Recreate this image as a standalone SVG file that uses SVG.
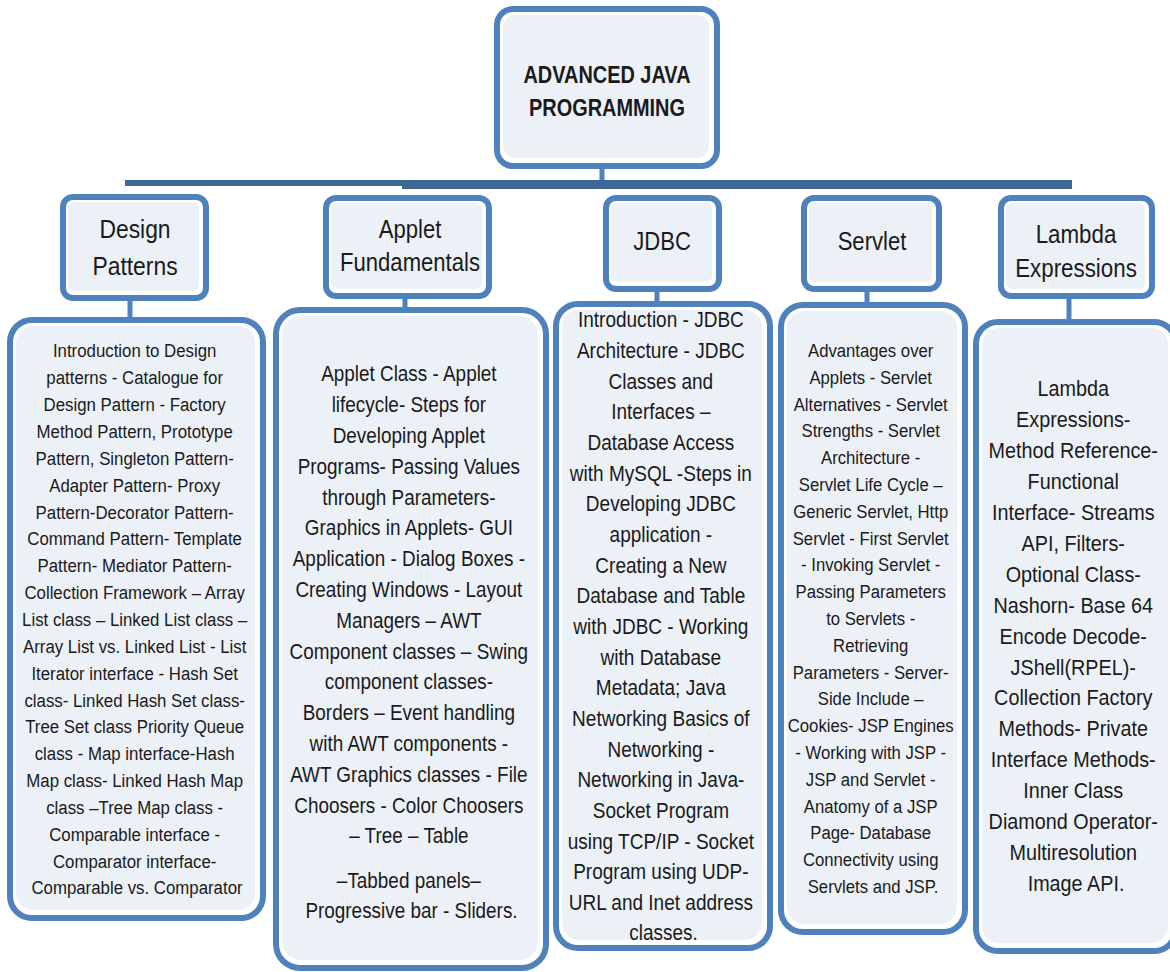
<svg xmlns="http://www.w3.org/2000/svg" width="1170" height="972" viewBox="0 0 1170 972">
  <style>
    .frame { fill: #ffffff; stroke: #4f81bd; stroke-width: 6; }
    .inner { fill: #ecf1f8; stroke: none; }
    .link { stroke: #4f81bd; stroke-width: 5; fill: none; }
    .bar { stroke: #3f6899; stroke-width: 6; fill: none; }
    text { font-family: "Liberation Sans", Arial, sans-serif; fill: #1a1a1a; text-anchor: middle; }
    .title { font-size: 24px; font-weight: bold; }
    .head { font-size: 26px; }
    .b19 { font-size: 19px; }
    .b22 { font-size: 22px; }
  </style>

  <!-- connectors -->
  <g id="connectors">
    <line class="link" x1="602" y1="166" x2="602" y2="184"/>
    <line class="bar" x1="125" y1="183" x2="1072" y2="183"/>
    <line class="bar" x1="402" y1="186" x2="1072" y2="186"/>
    <line class="link" x1="130" y1="298" x2="130" y2="320"/>
    <line class="link" x1="405" y1="296" x2="405" y2="310"/>
    <line class="link" x1="657" y1="289" x2="657" y2="304"/>
    <line class="link" x1="867" y1="289" x2="867" y2="305"/>
    <line class="link" x1="1069" y1="296" x2="1069" y2="320"/>
  </g>

  <!-- root -->
  <g id="root">
    <rect class="frame" x="497" y="9" width="220" height="157" rx="16"/>
    <rect class="inner" x="503" y="15" width="206" height="143" rx="12"/>
    <g transform="translate(607 0) scale(0.83 1)">
      <text class="title"><tspan x="0" y="83">ADVANCED JAVA</tspan><tspan x="0" y="116">PROGRAMMING</tspan></text>
    </g>
  </g>

  <!-- Design Patterns -->
  <g id="design-head">
    <rect class="frame" x="63" y="197" width="143" height="101" rx="10"/>
    <rect class="inner" x="68" y="202" width="131" height="89" rx="6"/>
    <g transform="translate(135 0) scale(0.88 1)">
      <text class="head"><tspan x="0" y="238">Design</tspan><tspan x="0" y="275">Patterns</tspan></text>
    </g>
  </g>
  <g id="design-body">
    <rect class="frame" x="10" y="320" width="253" height="598" rx="22"/>
    <rect class="inner" x="16" y="326" width="239" height="584" rx="17"/>
    <g transform="translate(137 0) scale(0.885 1)">
      <text class="b19">
        <tspan x="0" y="357.5">Introduction to Design</tspan>
        <tspan x="0" y="384.35">patterns - Catalogue for</tspan>
        <tspan x="0" y="411.2">Design Pattern - Factory</tspan>
        <tspan x="0" y="438.05">Method Pattern, Prototype</tspan>
        <tspan x="0" y="464.9">Pattern, Singleton Pattern-</tspan>
        <tspan x="0" y="491.75">Adapter Pattern- Proxy</tspan>
        <tspan x="0" y="518.6">Pattern-Decorator Pattern-</tspan>
        <tspan x="0" y="545.45">Command Pattern- Template</tspan>
        <tspan x="0" y="572.3">Pattern- Mediator Pattern-</tspan>
        <tspan x="0" y="599.15">Collection Framework – Array</tspan>
        <tspan x="0" y="626">List class – Linked List class –</tspan>
        <tspan x="0" y="652.85">Array List vs. Linked List - List</tspan>
        <tspan x="0" y="679.7">Iterator interface - Hash Set</tspan>
        <tspan x="0" y="706.55">class- Linked Hash Set class-</tspan>
        <tspan x="0" y="733.4">Tree Set class Priority Queue</tspan>
        <tspan x="0" y="760.25">class - Map interface-Hash</tspan>
        <tspan x="0" y="787.1">Map class- Linked Hash Map</tspan>
        <tspan x="0" y="813.95">class –Tree Map class -</tspan>
        <tspan x="0" y="840.8">Comparable interface -</tspan>
        <tspan x="0" y="867.65">Comparator interface-</tspan>
        <tspan x="0" y="894.5">Comparable vs. Comparator</tspan>
      </text>
    </g>
  </g>

  <!-- Applet Fundamentals -->
  <g id="applet-head">
    <rect class="frame" x="326" y="198" width="163" height="98" rx="10"/>
    <rect class="inner" x="331" y="203" width="151" height="86" rx="6"/>
    <g transform="translate(410 0) scale(0.85 1)">
      <text class="head"><tspan x="0" y="238">Applet</tspan><tspan x="0" y="271">Fundamentals</tspan></text>
    </g>
  </g>
  <g id="applet-body">
    <rect class="frame" x="276" y="310" width="270" height="658" rx="24"/>
    <rect class="inner" x="282" y="316" width="256" height="644" rx="19"/>
    <g transform="translate(411.5 0) scale(0.86 1)">
      <text class="b22">
        <tspan x="0" y="381.5">Applet Class - Applet</tspan>
        <tspan x="0" y="412.3">lifecycle- Steps for</tspan>
        <tspan x="0" y="443.1">Developing Applet</tspan>
        <tspan x="0" y="473.9">Programs- Passing Values</tspan>
        <tspan x="0" y="504.7">through Parameters-</tspan>
        <tspan x="0" y="535.5">Graphics in Applets- GUI</tspan>
        <tspan x="0" y="566.3">Application - Dialog Boxes -</tspan>
        <tspan x="0" y="597.1">Creating Windows - Layout</tspan>
        <tspan x="0" y="627.9">Managers – AWT</tspan>
        <tspan x="0" y="658.7">Component classes – Swing</tspan>
        <tspan x="0" y="689.5">component classes-</tspan>
        <tspan x="0" y="720.3">Borders – Event handling</tspan>
        <tspan x="0" y="751.1">with AWT components -</tspan>
        <tspan x="0" y="781.9">AWT Graphics classes - File</tspan>
        <tspan x="0" y="812.7">Choosers - Color Choosers</tspan>
        <tspan x="0" y="843.5">– Tree – Table</tspan>
        <tspan x="0" y="888">–Tabbed panels–</tspan>
        <tspan x="0" y="918.5">Progressive bar - Sliders.</tspan>
      </text>
    </g>
  </g>

  <!-- JDBC -->
  <g id="jdbc-head">
    <rect class="frame" x="606" y="198" width="113" height="91" rx="10"/>
    <rect class="inner" x="611" y="203" width="101" height="79" rx="6"/>
    <g transform="translate(662 0) scale(0.85 1)">
      <text class="head"><tspan x="0" y="250">JDBC</tspan></text>
    </g>
  </g>
  <g id="jdbc-body">
    <rect class="frame" x="556" y="304" width="214" height="644" rx="22"/>
    <rect class="inner" x="562" y="310" width="200" height="630" rx="17"/>
    <g transform="translate(663.5 0) scale(0.865 1)">
      <text class="b22">
        <tspan x="0" y="327.5">Introduction - JDBC</tspan>
        <tspan x="0" y="358.15">Architecture - JDBC</tspan>
        <tspan x="0" y="388.8">Classes and</tspan>
        <tspan x="0" y="419.45">Interfaces –</tspan>
        <tspan x="0" y="450.1">Database Access</tspan>
        <tspan x="0" y="480.75">with MySQL -Steps in</tspan>
        <tspan x="0" y="511.4">Developing JDBC</tspan>
        <tspan x="0" y="542.05">application -</tspan>
        <tspan x="0" y="572.7">Creating a New</tspan>
        <tspan x="0" y="603.35">Database and Table</tspan>
        <tspan x="0" y="634">with JDBC -  Working</tspan>
        <tspan x="0" y="664.65">with Database</tspan>
        <tspan x="0" y="695.3">Metadata; Java</tspan>
        <tspan x="0" y="725.95">Networking Basics of</tspan>
        <tspan x="0" y="756.6">Networking -</tspan>
        <tspan x="0" y="787.25">Networking in Java-</tspan>
        <tspan x="0" y="817.9">Socket Program</tspan>
        <tspan x="0" y="848.55">using TCP/IP - Socket</tspan>
        <tspan x="0" y="879.2">Program using UDP-</tspan>
        <tspan x="0" y="909.85">URL and Inet address</tspan>
        <tspan x="0" y="940.5">classes.</tspan>
      </text>
    </g>
  </g>

  <!-- Servlet -->
  <g id="servlet-head">
    <rect class="frame" x="804" y="198" width="135" height="91" rx="10"/>
    <rect class="inner" x="809" y="203" width="123" height="79" rx="6"/>
    <g transform="translate(872 0) scale(0.85 1)">
      <text class="head"><tspan x="0" y="250">Servlet</tspan></text>
    </g>
  </g>
  <g id="servlet-body">
    <rect class="frame" x="781" y="305" width="184" height="627" rx="22"/>
    <rect class="inner" x="787" y="311" width="170" height="613" rx="17"/>
    <g transform="translate(873 0) scale(0.88 1)">
      <text class="b19">
        <tspan x="0" y="357">Advantages over</tspan>
        <tspan x="0" y="383.8">Applets - Servlet</tspan>
        <tspan x="0" y="410.6">Alternatives - Servlet</tspan>
        <tspan x="0" y="437.4">Strengths - Servlet</tspan>
        <tspan x="0" y="464.2">Architecture -</tspan>
        <tspan x="0" y="491">Servlet Life Cycle –</tspan>
        <tspan x="0" y="517.8">Generic Servlet, Http</tspan>
        <tspan x="0" y="544.6">Servlet - First Servlet</tspan>
        <tspan x="0" y="571.4">- Invoking Servlet -</tspan>
        <tspan x="0" y="598.2">Passing Parameters</tspan>
        <tspan x="0" y="625">to Servlets -</tspan>
        <tspan x="0" y="651.8">Retrieving</tspan>
        <tspan x="0" y="678.6">Parameters - Server-</tspan>
        <tspan x="0" y="705.4">Side Include –</tspan>
        <tspan x="0" y="732.2">Cookies- JSP Engines</tspan>
        <tspan x="0" y="759">- Working with JSP -</tspan>
        <tspan x="0" y="785.8">JSP and Servlet -</tspan>
        <tspan x="0" y="812.6">Anatomy of a JSP</tspan>
        <tspan x="0" y="839.4">Page- Database</tspan>
        <tspan x="0" y="866.2">Connectivity using</tspan>
        <tspan x="0" y="893">Servlets and JSP.</tspan>
      </text>
    </g>
  </g>

  <!-- Lambda Expressions -->
  <g id="lambda-head">
    <rect class="frame" x="1001" y="198" width="151" height="98" rx="10"/>
    <rect class="inner" x="1006" y="203" width="139" height="86" rx="6"/>
    <g transform="translate(1076 0) scale(0.86 1)">
      <text class="head"><tspan x="0" y="243">Lambda</tspan><tspan x="0" y="277">Expressions</tspan></text>
    </g>
  </g>
  <g id="lambda-body">
    <rect class="frame" x="976" y="322" width="200" height="629" rx="22"/>
    <rect class="inner" x="982" y="328" width="186" height="615" rx="17"/>
    <g transform="translate(1076 0) scale(0.9 1)">
      <text class="b22">
        <tspan x="0" y="396.5">Lambda</tspan>
        <tspan x="0" y="427.4">Expressions-</tspan>
        <tspan x="0" y="458.3">Method Reference-</tspan>
        <tspan x="0" y="489.2">Functional</tspan>
        <tspan x="0" y="520.1">Interface- Streams</tspan>
        <tspan x="0" y="551">API, Filters-</tspan>
        <tspan x="0" y="581.9">Optional Class-</tspan>
        <tspan x="0" y="612.8">Nashorn- Base 64</tspan>
        <tspan x="0" y="643.7">Encode Decode-</tspan>
        <tspan x="0" y="674.6">JShell(RPEL)-</tspan>
        <tspan x="0" y="705.5">Collection Factory</tspan>
        <tspan x="0" y="736.4">Methods- Private</tspan>
        <tspan x="0" y="767.3">Interface Methods-</tspan>
        <tspan x="0" y="798.2">Inner Class</tspan>
        <tspan x="0" y="829.1">Diamond Operator-</tspan>
        <tspan x="0" y="860">Multiresolution</tspan>
        <tspan x="0" y="890.9">Image API.</tspan>
      </text>
    </g>
  </g>
</svg>
